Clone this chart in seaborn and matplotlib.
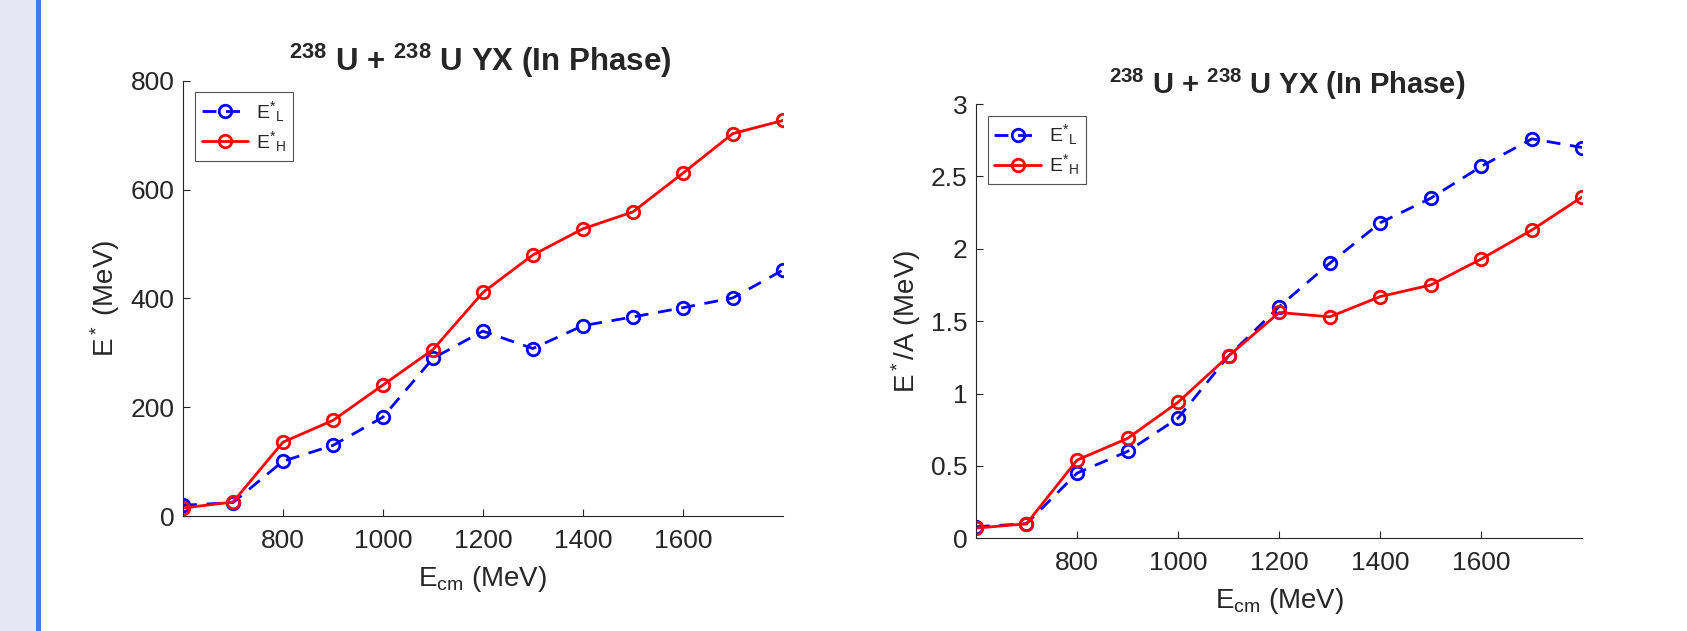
import pandas as pd
import matplotlib.pyplot as plt
from matplotlib.patches import Rectangle
import seaborn as sns

# collision energies (MeV)
e_cm = [600, 700, 800, 900, 1000, 1100, 1200, 1300, 1400, 1500, 1600, 1700, 1800]

# E* (MeV)
estar_light = [20, 25, 101, 130, 182, 290, 340, 308, 350, 366, 383, 401, 452]
estar_heavy = [15, 26, 136, 176, 241, 306, 411, 480, 528, 559, 630, 703, 727]

# E*/A (MeV)
estar_a_light = [0.08, 0.10, 0.45, 0.60, 0.83, 1.26, 1.60, 1.90, 2.18, 2.35, 2.57, 2.76, 2.70]
estar_a_heavy = [0.07, 0.10, 0.54, 0.69, 0.94, 1.26, 1.56, 1.53, 1.67, 1.75, 1.93, 2.13, 2.36]

x_ticks = [800, 1000, 1200, 1400, 1600]
left_yticks = [0, 200, 400, 600, 800]
right_yticks = [0, 0.5, 1, 1.5, 2, 2.5, 3]
right_yticklabels = ['0', '0.5', '1', '1.5', '2', '2.5', '3']

title = r'$^{\mathbf{238}}$ U + $^{\mathbf{238}}$ U YX (In Phase)'
labels = [r'E$^{*}{}_{\rm L}$', r'E$^{*}{}_{\rm H}$']

sns.set_style('ticks')
plt.rcParams['font.family'] = ['Liberation Sans', 'DejaVu Sans']
plt.rcParams['mathtext.fontset'] = 'custom'
plt.rcParams['mathtext.rm'] = 'Liberation Sans'
plt.rcParams['mathtext.it'] = 'Liberation Sans:italic'
plt.rcParams['mathtext.bf'] = 'Liberation Sans:bold'


def draw_panel(ax, light, heavy, yticks, ylim, ylabel, title_size, title_x, yticklabels=None):
    df = pd.DataFrame({'Ecm': e_cm, 'light': light, 'heavy': heavy})
    sns.lineplot(data=df, x='Ecm', y='light', ax=ax, color='#0000ff', linestyle=(0, (5, 3.5)),
                 linewidth=2, marker='o', markersize=9, markerfacecolor='none',
                 markeredgecolor='#0000ff', markeredgewidth=2, label=labels[0])
    sns.lineplot(data=df, x='Ecm', y='heavy', ax=ax, color='#ff0000', linestyle='-',
                 linewidth=2, marker='o', markersize=9, markerfacecolor='none',
                 markeredgecolor='#ff0000', markeredgewidth=2, label=labels[1])
    ax.set_xlim(600, 1800)
    ax.set_ylim(*ylim)
    ax.set_xticks(x_ticks)
    ax.set_yticks(yticks)
    if yticklabels is not None:
        ax.set_yticklabels(yticklabels)
    ax.set_xlabel(r'E$_{\rm cm}$ (MeV)', fontsize=20, color='#262626', labelpad=8)
    ax.set_ylabel(ylabel, fontsize=20, color='#262626', labelpad=6)
    ax.set_title(title, fontsize=title_size, fontweight='bold', pad=7, x=title_x)
    ax.tick_params(direction='in', length=5, width=0.8, colors='#262626', labelsize=19)
    ax.tick_params(axis='x', pad=9)
    ax.tick_params(axis='y', pad=6)
    for side in ['left', 'bottom']:
        ax.spines[side].set_color('#262626')
        ax.spines[side].set_linewidth(0.8)
    sns.despine(ax=ax)
    leg = ax.legend(loc='upper left', fontsize=14, frameon=True, fancybox=False,
                    handlelength=2.4, borderaxespad=0.6, labelspacing=0.25,
                    borderpad=0.35, handletextpad=0.4)
    leg.get_frame().set_edgecolor('#262626')
    leg.get_frame().set_linewidth(0.8)


fig = plt.figure(figsize=(16.87, 6.31), dpi=100)
# side strip of the page
fig.add_artist(Rectangle((0, 0), 36 / 1687, 1, transform=fig.transFigure,
                         facecolor='#e5e8f2', edgecolor='none'))
fig.add_artist(Rectangle((36 / 1687, 0), 5 / 1687, 1, transform=fig.transFigure,
                         facecolor='#4a78e2', edgecolor='none'))

ax1 = fig.add_axes([0.1085, 0.182, 0.3555, 0.690])
ax2 = fig.add_axes([0.5785, 0.147, 0.3595, 0.688])

draw_panel(ax1, estar_light, estar_heavy, left_yticks, (0, 800), r'E$^*$ (MeV)', 22.5, 0.495)
draw_panel(ax2, estar_a_light, estar_a_heavy, right_yticks, (0, 3), r'E$^*$/A (MeV)', 21, 0.513,
           right_yticklabels)

fig.savefig('out.png', dpi=100)
plt.close(fig)
